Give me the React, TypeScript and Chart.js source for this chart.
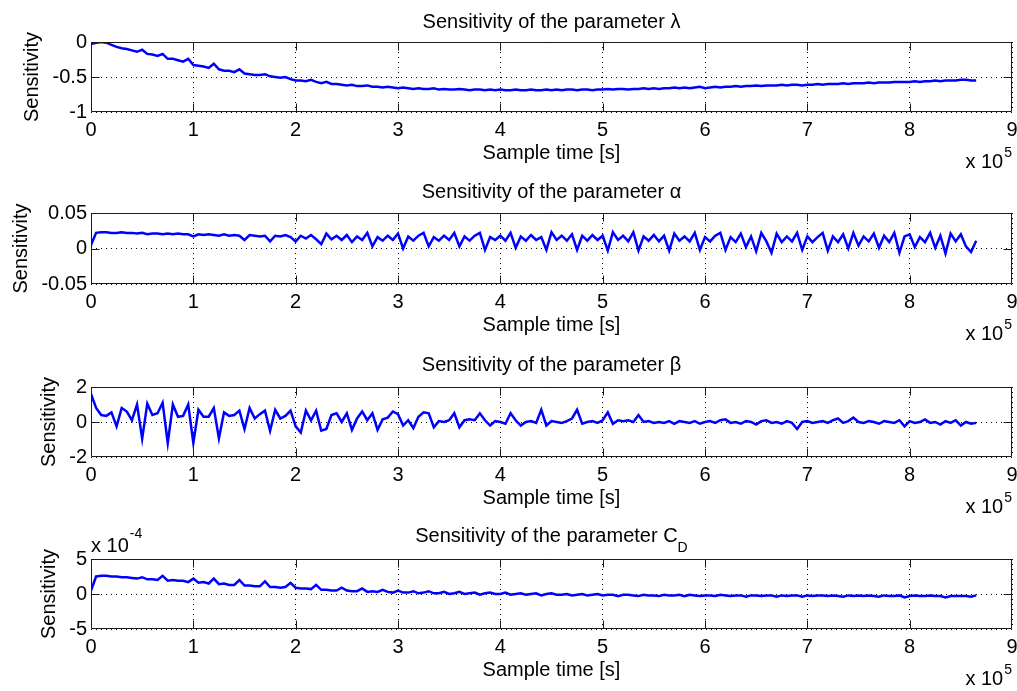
import React, { useEffect, useRef } from "react";
import { Chart, registerables } from "chart.js";

Chart.register(...registerables);

// ---------------- data ----------------
// sample spacing of the recorded sensitivities (seconds)
const SAMPLE_STEP_S = 5000;
const X_TICK_VALUES = [0, 100000, 200000, 300000, 400000, 500000, 600000, 700000, 800000, 900000];

const LAMBDA_SENS = [
  -0.03, -0.01, 0.0, -0.01, -0.04, -0.07, -0.09, -0.1, -0.12, -0.14, -0.11, -0.17, -0.18, -0.2, -0.17, -0.24, -0.24, -0.26, -0.28, -0.24,
  -0.33, -0.34, -0.35, -0.37, -0.31, -0.39, -0.41, -0.41, -0.43, -0.39, -0.45, -0.46, -0.47, -0.47, -0.46, -0.49, -0.5, -0.51, -0.5, -0.53,
  -0.55, -0.55, -0.56, -0.54, -0.57, -0.59, -0.57, -0.6, -0.6, -0.61, -0.62, -0.61, -0.63, -0.63, -0.62, -0.64, -0.64, -0.65, -0.64, -0.65,
  -0.66, -0.65, -0.66, -0.67, -0.66, -0.67, -0.67, -0.66, -0.68, -0.67, -0.68, -0.68, -0.67, -0.68, -0.69, -0.68, -0.68, -0.69, -0.68, -0.69,
  -0.68, -0.69, -0.69, -0.68, -0.69, -0.69, -0.68, -0.69, -0.69, -0.68, -0.69, -0.68, -0.69, -0.68, -0.68, -0.69, -0.68, -0.68, -0.69, -0.68,
  -0.68, -0.67, -0.68, -0.67, -0.67, -0.68, -0.67, -0.67, -0.66, -0.67, -0.66, -0.67, -0.66, -0.66, -0.65, -0.66, -0.65, -0.66, -0.65, -0.64,
  -0.66, -0.65, -0.64, -0.65, -0.64, -0.64, -0.63, -0.64, -0.63, -0.63, -0.62, -0.63, -0.62, -0.62, -0.62, -0.61, -0.62, -0.61, -0.61, -0.62,
  -0.61, -0.61, -0.6, -0.61, -0.6, -0.6, -0.6, -0.59, -0.6, -0.59, -0.59, -0.59, -0.58, -0.59, -0.58, -0.58, -0.58, -0.57, -0.57, -0.57,
  -0.57, -0.56, -0.57, -0.56, -0.56, -0.55, -0.56, -0.55, -0.55, -0.55, -0.54, -0.54, -0.55, -0.55,
];

const ALPHA_SENS = [
  0.005, 0.022, 0.023, 0.023, 0.022, 0.022, 0.023, 0.022, 0.022, 0.021, 0.022, 0.02, 0.021, 0.021, 0.02, 0.021, 0.02, 0.021, 0.02, 0.02,
  0.017, 0.02, 0.019, 0.02, 0.019, 0.018, 0.02, 0.018, 0.019, 0.018, 0.012, 0.019, 0.018, 0.017, 0.018, 0.01, 0.018, 0.017, 0.019, 0.016,
  0.01, 0.018, 0.014, 0.019, 0.013, 0.006, 0.021, 0.013, 0.018, 0.012, 0.019, 0.009, 0.017, 0.012, 0.022, 0.003, 0.016, 0.011, 0.018, 0.012,
  0.021, 0.0, 0.017, 0.011, 0.018, 0.022, 0.003, 0.016, 0.011, 0.018, 0.012, 0.022, 0.003, 0.017, 0.011, 0.018, 0.022, -0.002, 0.016, 0.012,
  0.018, 0.011, 0.022, 0.001, 0.017, 0.011, 0.019, 0.012, 0.016, -0.002, 0.023, 0.012, 0.018, 0.011, 0.02, -0.002, 0.018, 0.011, 0.019, 0.012,
  0.018, -0.003, 0.023, 0.012, 0.018, 0.01, 0.023, -0.003, 0.017, 0.011, 0.019, 0.01, 0.018, -0.003, 0.021, 0.011, 0.017, 0.01, 0.022, -0.002,
  0.016, 0.01, 0.018, 0.022, -0.002, 0.016, 0.009, 0.021, 0.002, 0.017, -0.004, 0.022, 0.01, -0.006, 0.021, 0.009, 0.017, 0.01, 0.022, -0.002,
  0.017, 0.009, 0.016, 0.022, -0.003, 0.017, 0.009, 0.02, 0.0, 0.022, 0.004, 0.017, 0.01, 0.021, 0.001, 0.018, 0.009, 0.022, -0.006, 0.017,
  0.02, 0.002, 0.016, 0.009, 0.022, 0.001, 0.018, -0.007, 0.021, 0.01, 0.02, 0.003, -0.005, 0.011,
];

const BETA_SENS = [
  1.6, 0.8, 0.4, 0.35, 0.55, -0.25, 0.8, 0.6, 0.1, 1.0, -0.95, 1.05, 0.4, 0.5, 1.1, -1.2, 1.0, 0.3, 0.35, 1.0,
  -1.2, 0.7, 0.3, 0.3, 0.8, -0.93, 0.55, 0.35, 0.4, 0.65, -0.4, 0.8, 0.2, 0.45, 0.65, -0.5, 0.7, 0.2, 0.35, 0.65,
  -0.25, -0.6, 0.65, 0.1, 0.65, -0.5, -0.4, 0.4, 0.5, 0.0, 0.5, -0.45, 0.2, 0.6, 0.1, 0.5, -0.45, 0.15, 0.25, 0.6,
  0.45, -0.2, 0.1, -0.35, 0.3, 0.55, 0.5, -0.3, 0.05, 0.0, 0.1, 0.5, -0.3, 0.1, 0.15, 0.1, 0.5, 0.1, -0.2, 0.05,
  0.0, -0.1, 0.5, 0.1, -0.2, 0.0, 0.05, -0.05, 0.7, -0.2, 0.05, 0.0, -0.05, 0.05, 0.2, 0.7, -0.1, 0.0, 0.05, -0.05,
  0.1, 0.55, -0.1, 0.1, 0.05, 0.1, 0.0, 0.4, 0.0, 0.05, -0.05, 0.0, -0.05, 0.05, -0.1, 0.05, 0.0, -0.05, 0.05, -0.1,
  0.0, 0.05, -0.05, 0.1, 0.15, -0.05, 0.0, -0.1, 0.05, 0.0, -0.15, 0.05, 0.1, -0.05, 0.0, -0.1, 0.05, -0.05, -0.4, 0.0,
  0.05, -0.05, 0.0, 0.05, -0.05, 0.1, 0.2, -0.05, 0.05, 0.25, 0.0, -0.05, 0.05, 0.0, -0.1, 0.05, 0.0, -0.05, 0.1, -0.25,
  0.05, -0.05, 0.0, 0.15, -0.05, 0.0, -0.15, 0.05, -0.05, 0.1, -0.2, 0.0, -0.1, -0.05,
];

// C_D sensitivity, in units of 1e-4
const CD_SENS_E4 = [
  0.5, 2.5, 2.6, 2.6, 2.5, 2.5, 2.4, 2.4, 2.3, 2.2, 2.4, 2.1, 2.1, 2.0, 2.6, 1.9, 2.0, 1.9, 1.9, 1.7,
  2.2, 1.6, 1.7, 1.5, 2.2, 1.4, 1.5, 1.3, 1.3, 2.0, 1.2, 1.2, 1.1, 1.1, 1.8, 1.0, 1.0, 0.9, 1.0, 1.6,
  0.9, 0.8, 0.8, 0.7, 1.3, 0.6, 0.6, 0.5, 0.5, 0.9, 0.5, 0.4, 0.4, 0.8, 0.3, 0.4, 0.3, 0.6, 0.3, 0.2,
  0.5, 0.2, 0.2, 0.4, 0.1, 0.2, 0.4, 0.1, 0.1, 0.3, 0.0, 0.1, 0.3, 0.0, 0.1, 0.2, -0.1, 0.1, 0.2, 0.0,
  0.0, 0.2, -0.1, 0.0, 0.1, -0.1, 0.0, 0.1, -0.2, 0.0, 0.1, -0.1, -0.1, 0.0, -0.2, -0.1, 0.0, -0.2, -0.1, 0.0,
  -0.2, -0.1, -0.1, -0.3, -0.1, -0.1, -0.2, -0.3, -0.1, -0.2, -0.2, -0.3, -0.1, -0.2, -0.2, -0.1, -0.3, -0.1, -0.2, -0.3,
  -0.2, -0.2, -0.3, -0.1, -0.2, -0.3, -0.2, -0.2, -0.4, -0.2, -0.2, -0.3, -0.2, -0.2, -0.4, -0.2, -0.3, -0.2, -0.2, -0.4,
  -0.2, -0.3, -0.2, -0.2, -0.3, -0.2, -0.3, -0.4, -0.2, -0.3, -0.2, -0.3, -0.2, -0.3, -0.4, -0.2, -0.3, -0.3, -0.2, -0.5,
  -0.3, -0.2, -0.3, -0.3, -0.2, -0.3, -0.3, -0.5, -0.3, -0.3, -0.3, -0.3, -0.4, -0.2,
];

const Y_TICKS_LAMBDA = [-1, -0.5, 0];
const Y_TICKS_ALPHA = [-0.05, 0, 0.05];
const Y_TICKS_BETA = [-2, 0, 2];
const Y_TICKS_CD = [-5, 0, 5];

const TITLES = [
  "Sensitivity of the parameter \u03bb",
  "Sensitivity of the parameter \u03b1",
  "Sensitivity of the parameter \u03b2",
  "Sensitivity of the parameter C",
];
const X_LABEL = "Sample time [s]";
const Y_LABEL = "Sensitivity";

// ---------------- layout / style ----------------
const FONT = "'Liberation Sans', Arial, Helvetica, sans-serif";
const W = 1017;
const PLOT_RIGHT = 1012;
const PLOT_LEFT = 91;
const TOP_SPACE = 42;
const BOTTOM_SPACE = 60;

type PanelCfg = {
  data: number[];
  yTicks: number[];
  title: string;
  titleSub?: string;
  plotTop: number;
  plotH: number;
  titleOff: number;
  yLabelX: number;
  yMult?: string;
};

const PANELS: PanelCfg[] = [
  { data: LAMBDA_SENS, yTicks: Y_TICKS_LAMBDA, title: TITLES[0], plotTop: 42, plotH: 70, titleOff: 14, yLabelX: 32 },
  { data: ALPHA_SENS, yTicks: Y_TICKS_ALPHA, title: TITLES[1], plotTop: 213, plotH: 71, titleOff: 15, yLabelX: 21 },
  { data: BETA_SENS, yTicks: Y_TICKS_BETA, title: TITLES[2], plotTop: 387, plotH: 70, titleOff: 16, yLabelX: 49 },
  { data: CD_SENS_E4, yTicks: Y_TICKS_CD, title: TITLES[3], titleSub: "D", plotTop: 559, plotH: 70, titleOff: 17, yLabelX: 49, yMult: "-4" },
];

function decorPlugin(cfg: PanelCfg) {
  return {
    id: "matlabDecor",
    afterDraw(chart: any) {
      const { ctx, chartArea: a, scales } = chart;
      const xs = scales.x;
      const ys = scales.y;
      const L = Math.round(a.left) + 0.5;
      const R = Math.round(a.right) - 0.5;
      const T = Math.round(a.top) + 0.5;
      const B = Math.round(a.bottom) - 0.5;
      ctx.save();
      ctx.setLineDash([]);
      ctx.strokeStyle = "#1a1a1a";
      ctx.lineWidth = 1;
      ctx.beginPath();
      ctx.rect(L, T, R - L, B - T);
      ctx.stroke();
      // inward tick marks on all four sides
      const TL = 8;
      ctx.beginPath();
      for (const t of xs.ticks) {
        if (t.value <= xs.min || t.value >= xs.max) continue;
        const px = Math.round(xs.getPixelForValue(t.value)) + 0.5;
        ctx.moveTo(px, B);
        ctx.lineTo(px, B - TL);
        ctx.moveTo(px, T);
        ctx.lineTo(px, T + TL);
      }
      for (const t of ys.ticks) {
        if (t.value <= ys.min || t.value >= ys.max) continue;
        const py = Math.round(ys.getPixelForValue(t.value)) + 0.5;
        ctx.moveTo(L, py);
        ctx.lineTo(L + TL, py);
        ctx.moveTo(R, py);
        ctx.lineTo(R - TL, py);
      }
      ctx.stroke();

      ctx.fillStyle = "#000";
      const cx = (a.left + a.right) / 2;
      // title
      ctx.font = `20px ${FONT}`;
      ctx.textBaseline = "alphabetic";
      if (cfg.titleSub) {
        const w1 = ctx.measureText(cfg.title).width;
        ctx.font = `14px ${FONT}`;
        const w2 = ctx.measureText(cfg.titleSub).width;
        const x0 = cx - (w1 + w2) / 2;
        ctx.textAlign = "left";
        ctx.font = `20px ${FONT}`;
        ctx.fillText(cfg.title, x0, a.top - cfg.titleOff);
        ctx.font = `14px ${FONT}`;
        ctx.fillText(cfg.titleSub, x0 + w1, a.top - cfg.titleOff + 10);
      } else {
        ctx.textAlign = "center";
        ctx.fillText(cfg.title, cx, a.top - cfg.titleOff);
      }
      // x label
      ctx.font = `20px ${FONT}`;
      ctx.textAlign = "center";
      ctx.fillText(X_LABEL, cx, a.bottom + 47);
      // x multiplier  x 10^5
      ctx.font = `14px ${FONT}`;
      const supW = ctx.measureText("5").width;
      ctx.textAlign = "left";
      ctx.fillText("5", a.right - supW, a.bottom + 45);
      ctx.font = `20px ${FONT}`;
      ctx.textAlign = "right";
      ctx.fillText("x 10", a.right - supW - 1, a.bottom + 56);
      // y multiplier
      if (cfg.yMult) {
        ctx.textAlign = "left";
        ctx.font = `20px ${FONT}`;
        const w = ctx.measureText("x 10").width;
        ctx.fillText("x 10", a.left, a.top - 7);
        ctx.font = `14px ${FONT}`;
        ctx.fillText(cfg.yMult, a.left + w + 1, a.top - 21);
      }
      // y label
      ctx.font = `20px ${FONT}`;
      ctx.translate(cfg.yLabelX, (a.top + a.bottom) / 2);
      ctx.rotate(-Math.PI / 2);
      ctx.textAlign = "center";
      ctx.textBaseline = "middle";
      ctx.fillText(Y_LABEL, 0, 0);
      ctx.restore();
    },
  };
}

function Panel({ cfg }: { cfg: PanelCfg }) {
  const ref = useRef<HTMLCanvasElement | null>(null);
  const canvasH = TOP_SPACE + cfg.plotH + BOTTOM_SPACE;
  useEffect(() => {
    if (!ref.current) return;
    const points = cfg.data.map((v, i) => ({ x: i * SAMPLE_STEP_S, y: v }));
    const chart = new Chart(ref.current, {
      type: "line",
      data: {
        datasets: [
          {
            data: points,
            borderColor: "#0000ff",
            borderWidth: 2.5,
            pointRadius: 0,
            tension: 0,
            fill: false,
          },
        ],
      },
      options: {
        animation: false,
        responsive: false,
        devicePixelRatio: 1,
        events: [],
        layout: { padding: { left: 0, right: W - PLOT_RIGHT, top: TOP_SPACE, bottom: 0 } },
        plugins: { legend: { display: false }, title: { display: false }, tooltip: { enabled: false } },
        scales: {
          x: {
            type: "linear",
            min: 0,
            max: 900000,
            afterBuildTicks: (s: any) => {
              s.ticks = X_TICK_VALUES.map((v) => ({ value: v }));
            },
            afterFit: (s: any) => {
              s.height = BOTTOM_SPACE;
              s.paddingLeft = 0;
              s.paddingRight = 0;
            },
            ticks: {
              autoSkip: false,
              maxRotation: 0,
              padding: 6,
              color: "#000",
              font: { family: FONT, size: 20 },
              callback: (v: any) => String(Number(v) / 100000),
            },
            grid: { color: "#000", lineWidth: 1, drawTicks: false },
            border: { display: false, dash: [1, 4] },
          },
          y: {
            type: "linear",
            min: cfg.yTicks[0],
            max: cfg.yTicks[cfg.yTicks.length - 1],
            afterBuildTicks: (s: any) => {
              s.ticks = cfg.yTicks.map((v) => ({ value: v }));
            },
            afterFit: (s: any) => {
              s.width = PLOT_LEFT;
              s.paddingTop = 0;
              s.paddingBottom = 0;
            },
            ticks: {
              autoSkip: false,
              padding: 4,
              color: "#000",
              font: { family: FONT, size: 20 },
              callback: (v: any) => String(v),
            },
            grid: { color: "#000", lineWidth: 1, drawTicks: false },
            border: { display: false, dash: [1, 4] },
          },
        },
      },
      plugins: [decorPlugin(cfg)],
    } as any);
    return () => chart.destroy();
  }, [cfg]);
  return (
    <div style={{ position: "absolute", left: 0, top: cfg.plotTop - TOP_SPACE, width: W, height: canvasH }}>
      <canvas ref={ref} width={W} height={canvasH} style={{ display: "block" }} />
    </div>
  );
}

export default function App() {
  return (
    <div style={{ position: "absolute", left: 0, top: 0, width: W, height: 691, background: "#fff" }}>
      {PANELS.map((p, i) => (
        <Panel key={i} cfg={p} />
      ))}
    </div>
  );
}
